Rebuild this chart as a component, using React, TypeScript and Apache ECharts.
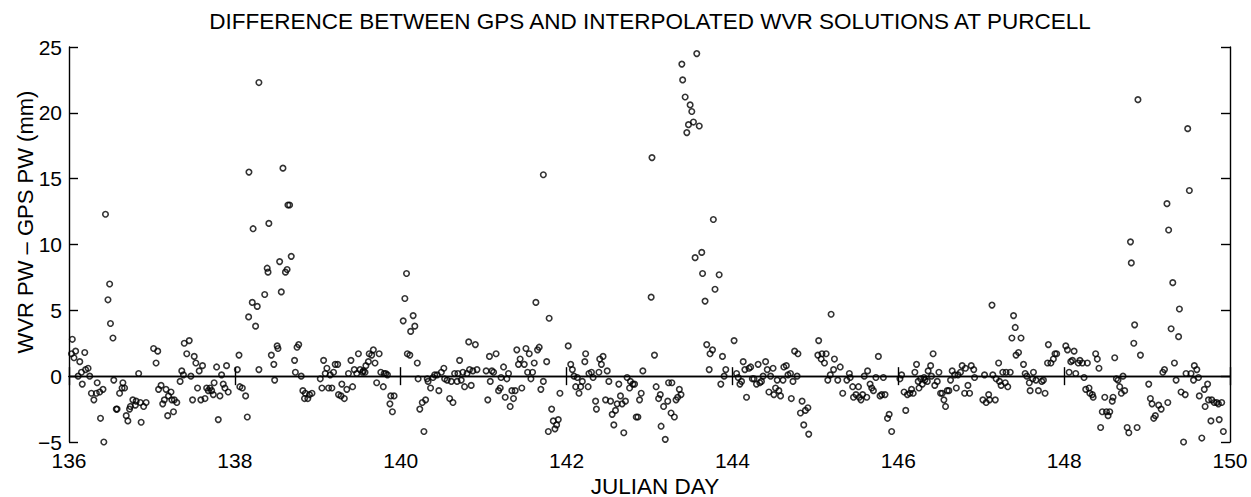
import React, { useEffect, useRef } from "react";
import * as echarts from "echarts";

// [julian day, WVR PW - GPS PW (mm)]
const seg136: [number, number][] = [
  [136.04, 2.8], [136.03, 1.7], [136.08, 1.9], [136.06, 1.4], [136.13, 1.1], [136.19, 1.8],
  [136.11, 0.0], [136.15, 0.3], [136.16, -0.6], [136.2, 0.5], [136.23, 0.6], [136.25, 0.0],
  [136.27, -1.3], [136.3, -1.8], [136.33, -1.3], [136.34, -0.5], [136.37, -1.2], [136.38, -3.2],
  [136.41, -1.0], [136.42, -5.0], [136.44, 12.3], [136.49, 7.0], [136.47, 5.8], [136.5, 4.0],
  [136.53, 2.9], [136.54, -0.3], [136.57, -2.5], [136.58, -2.5], [136.61, -1.3], [136.64, -0.9],
  [136.65, -0.5], [136.67, -0.9], [136.69, -3.0], [136.71, -3.4], [136.73, -2.5], [136.74, -2.3],
  [136.77, -1.8], [136.8, -2.2], [136.81, -1.9], [136.84, 0.2], [136.86, -2.0], [136.87, -3.5],
  [136.9, -2.3], [136.93, -2.0], [137.02, 2.1], [137.05, 1.0], [137.07, 1.9], [137.08, -1.0],
  [137.11, -0.7], [137.13, -2.1], [137.15, -1.8], [137.17, -1.0], [137.19, -3.0], [137.2, -1.5],
  [137.23, -1.2], [137.24, -1.8], [137.26, -2.7], [137.27, -1.8], [137.3, -2.0], [137.34, -0.4],
  [137.36, 0.4], [137.38, 0.1], [137.39, 2.5], [137.42, 1.7], [137.45, 2.7], [137.47, 0.0],
  [137.49, -1.8], [137.51, 1.5], [137.53, 1.0], [137.55, -0.9], [137.57, 0.4], [137.59, -1.8],
  [137.61, 0.8], [137.64, -1.7], [137.66, -0.9], [137.68, -1.1], [137.7, -0.9], [137.72, -1.1],
  [137.74, -1.4], [137.75, -0.5], [137.78, 0.7], [137.8, -3.3], [137.82, -1.5], [137.84, 0.1],
  [137.86, -0.6], [137.88, -0.9], [137.9, 0.8], [137.92, -1.2],
];

const seg138: [number, number][] = [
  [138.03, 0.5], [138.05, 1.6], [138.06, -0.8], [138.09, -0.9], [138.13, -1.5], [138.15, -3.1],
  [138.17, 15.5], [138.22, 11.2], [138.166, 4.5], [138.21, 5.6], [138.27, 5.3], [138.25, 3.8],
  [138.29, 0.5], [138.29, 22.3], [138.36, 6.2], [138.41, 11.6], [138.39, 8.2], [138.4, 7.9],
  [138.44, 1.6], [138.47, 0.9], [138.48, -0.3], [138.51, 2.3], [138.52, 2.1], [138.54, 8.7],
  [138.56, 6.4], [138.58, 15.8], [138.61, 7.9], [138.63, 8.1], [138.64, 13.0], [138.66, 13.0],
  [138.68, 9.1], [138.72, 1.2], [138.73, 0.3], [138.75, 2.2], [138.77, 2.4], [138.8, 0.0],
  [138.82, -1.1], [138.84, -1.7], [138.85, -1.3], [138.88, -1.7], [138.9, -1.4], [138.93, -1.3],
  [139.03, -0.2], [139.05, -0.9], [139.07, 1.2], [139.09, 0.2], [139.11, 0.6], [139.13, -0.9],
  [139.15, 0.1], [139.17, -0.9], [139.19, 0.3], [139.21, 0.9], [139.24, 0.9], [139.25, -1.4],
  [139.28, -1.5], [139.29, -0.6], [139.32, -1.7], [139.35, -1.0], [139.37, 0.2], [139.4, 1.2],
  [139.42, -0.8], [139.44, 0.5], [139.47, 0.2], [139.49, 1.7], [139.51, 0.5], [139.54, 0.3],
  [139.55, 0.4], [139.57, 0.3], [139.58, 0.8], [139.61, 1.1], [139.62, 1.7], [139.65, 1.6],
  [139.67, 2.0], [139.69, 1.0], [139.71, -0.5], [139.74, 1.7], [139.76, 0.3], [139.79, -0.8],
  [139.8, 0.2], [139.82, 0.2], [139.84, 0.1], [139.87, -2.1], [139.88, -1.5], [139.9, -2.7],
  [139.92, -1.5],
];

const seg140: [number, number][] = [
  [140.03, 4.2], [140.05, 5.9], [140.07, 7.8], [140.08, 1.7], [140.11, 1.6], [140.12, 3.4],
  [140.15, 4.6], [140.17, 3.8], [140.2, 1.0], [140.21, -0.2], [140.23, -2.5], [140.26, -2.0],
  [140.28, -4.2], [140.3, -1.8], [140.32, -0.2], [140.33, -0.4], [140.36, -0.9], [140.39, -0.1],
  [140.41, 0.1], [140.44, 0.1], [140.46, -1.1], [140.49, 0.3], [140.52, 0.6], [140.53, -0.2],
  [140.56, -0.3], [140.59, -1.7], [140.61, -0.4], [140.63, -2.0], [140.65, 0.2], [140.68, -0.4],
  [140.69, 0.2], [140.71, 1.2], [140.73, -0.3], [140.75, 0.3], [140.77, -0.8], [140.8, 0.2],
  [140.82, 2.6], [140.83, 0.5], [140.85, -0.7], [140.87, 0.4], [140.9, 2.4], [140.92, 0.5],
  [141.03, 0.4], [141.05, -1.8], [141.07, 1.5], [141.08, -0.4], [141.1, 0.4], [141.12, 0.3],
  [141.15, 1.7], [141.18, -1.1], [141.2, -0.9], [141.21, -0.1], [141.24, 0.7], [141.26, -1.6],
  [141.28, -0.2], [141.3, 0.2], [141.32, -2.3], [141.34, -1.1], [141.36, -1.7], [141.38, -1.1],
  [141.4, 2.0], [141.42, 0.9], [141.44, 1.3], [141.46, -0.9], [141.49, 0.9], [141.51, 2.1],
  [141.53, 0.3], [141.55, 1.7], [141.57, -0.2], [141.59, 0.3], [141.61, 1.0], [141.63, 5.6],
  [141.65, 2.0], [141.67, 2.2], [141.69, -1.0], [141.72, -0.4], [141.72, 15.3], [141.76, 1.1],
  [141.78, -4.2], [141.79, 4.4], [141.82, -2.5], [141.84, -3.4], [141.86, -4.0], [141.88, -3.7],
  [141.9, -3.3], [141.92, -1.3],
];

const seg142: [number, number][] = [
  [142.02, 2.3], [142.05, 0.9], [142.07, 0.5], [142.09, 0.0], [142.11, -0.8], [142.13, -0.1],
  [142.15, -1.3], [142.17, -0.8], [142.19, -0.4], [142.22, 1.1], [142.23, 1.7], [142.26, -0.8],
  [142.27, 0.2], [142.3, 0.3], [142.32, -0.1], [142.35, -1.9], [142.36, -2.5], [142.39, 0.3],
  [142.4, 1.3], [142.42, 0.9], [142.44, 1.5], [142.47, -1.8], [142.49, 0.4], [142.51, -0.4],
  [142.53, -1.9], [142.55, -2.9], [142.57, -3.7], [142.59, -2.6], [142.61, -2.1], [142.63, -0.6],
  [142.65, -1.5], [142.67, -2.1], [142.69, -4.3], [142.71, -1.9], [142.73, -0.1], [142.76, -0.9],
  [142.77, -0.4], [142.8, -0.6], [142.82, -0.6], [142.84, -3.1], [142.86, -3.1], [142.88, -1.8],
  [142.9, -1.3], [142.92, 0.4], [143.03, 16.6], [143.02, 6.0], [143.06, 1.6], [143.08, -0.8],
  [143.11, -1.7], [143.13, -1.4], [143.14, -3.8], [143.17, -2.3], [143.19, -4.8], [143.22, -1.9],
  [143.23, -0.5], [143.26, -2.8], [143.27, -0.5], [143.3, -3.1], [143.32, -1.8], [143.34, -1.6],
  [143.36, -1.0], [143.38, -1.4], [143.39, 23.7], [143.4, 22.5], [143.43, 21.2], [143.45, 18.5],
  [143.47, 19.1], [143.49, 20.6], [143.51, 20.1], [143.53, 19.3], [143.57, 24.5], [143.6, 19.0],
  [143.55, 9.0], [143.63, 9.4], [143.64, 7.8], [143.67, 5.7], [143.69, 2.4], [143.72, 0.5],
  [143.73, 1.7], [143.76, 2.0], [143.77, 11.9], [143.79, 6.6], [143.84, 7.7], [143.86, -0.6],
  [143.88, 1.5], [143.9, 0.0], [143.92, 0.5],
];

const seg144: [number, number][] = [
  [144.02, 2.7], [144.05, 0.2], [144.07, -0.1], [144.09, -0.6], [144.11, -0.4], [144.13, 1.1],
  [144.15, 0.5], [144.17, -1.6], [144.2, 0.6], [144.22, 0.7], [144.24, -0.2], [144.26, -0.2],
  [144.29, -0.6], [144.31, 0.9], [144.33, -0.5], [144.35, -0.4], [144.37, 0.0], [144.4, 1.1],
  [144.42, 0.5], [144.44, -1.2], [144.46, 0.0], [144.49, 0.6], [144.5, -1.4], [144.52, -0.9],
  [144.54, -0.3], [144.56, -1.1], [144.58, -1.5], [144.61, -0.3], [144.62, 0.7], [144.65, 0.8],
  [144.67, 0.1], [144.7, 0.2], [144.71, -1.7], [144.73, -0.4], [144.75, 1.9], [144.78, 0.0],
  [144.79, 1.7], [144.82, -2.8], [144.84, -1.9], [144.86, -3.7], [144.88, -2.6], [144.91, -2.4],
  [144.92, -4.4], [145.03, 1.6], [145.04, 2.7], [145.07, 1.3], [145.08, 1.7], [145.11, 1.0],
  [145.13, 1.7], [145.15, -0.3], [145.18, 0.1], [145.19, 4.7], [145.22, 0.5], [145.23, 1.3],
  [145.27, -0.3], [145.3, 0.7], [145.33, -1.3], [145.38, -0.3], [145.41, 0.2], [145.42, -0.1],
  [145.45, -0.8], [145.46, -1.6], [145.49, -1.4], [145.52, -0.8], [145.53, -1.6], [145.55, -1.8],
  [145.57, -1.4], [145.59, 0.0], [145.62, -1.6], [145.63, 0.4], [145.66, -0.6], [145.68, -0.9],
  [145.7, -1.1], [145.73, -0.1], [145.76, 1.5], [145.78, -1.5], [145.8, -1.4], [145.82, -0.1],
  [145.84, -1.4], [145.87, -3.2], [145.89, -2.9], [145.92, -4.2],
];

const seg146: [number, number][] = [
  [146.02, -0.2], [146.04, 0.1], [146.07, -1.2], [146.09, -2.6], [146.11, -1.4], [146.14, -1.3],
  [146.16, -1.0], [146.18, -1.3], [146.2, 0.3], [146.22, 0.9], [146.24, -0.4], [146.25, -0.9],
  [146.27, -0.2], [146.29, -0.6], [146.31, -0.1], [146.32, -0.3], [146.35, -0.4], [146.36, 0.4],
  [146.39, 0.8], [146.4, 0.0], [146.42, 1.7], [146.44, -0.7], [146.47, -0.4], [146.49, 0.3],
  [146.51, -1.3], [146.53, -1.3], [146.55, -1.8], [146.57, -2.3], [146.59, -1.1], [146.61, -1.1],
  [146.63, -0.3], [146.65, 0.4], [146.68, 0.1], [146.7, -0.9], [146.72, 0.1], [146.75, 0.3],
  [146.77, 0.8], [146.8, -1.3], [146.81, 0.6], [146.84, -0.7], [146.86, -1.3], [146.88, 0.8],
  [146.91, 0.5], [146.92, -0.1], [147.02, -1.8], [147.04, 0.1], [147.06, -2.0], [147.09, -1.4],
  [147.1, -1.8], [147.13, 5.4], [147.14, 0.1], [147.17, -1.8], [147.18, -0.2], [147.21, 1.0],
  [147.22, -0.4], [147.24, -0.7], [147.26, 0.3], [147.29, -0.5], [147.3, 0.3], [147.32, -0.8],
  [147.35, 0.3], [147.37, 2.9], [147.39, 4.6], [147.41, 3.7], [147.42, 1.6], [147.45, 1.8],
  [147.48, 2.9], [147.51, 0.9], [147.53, 0.2], [147.55, 0.0], [147.58, -0.5], [147.59, -1.1],
  [147.62, -0.2], [147.63, 0.3], [147.66, -0.3], [147.69, -1.1],
];

const seg148: [number, number][] = [
  [147.73, -0.4], [147.75, -0.3], [147.77, -1.3], [147.8, 1.0], [147.81, 2.4], [147.84, 1.0],
  [147.87, 1.3], [147.89, 1.7], [147.91, 1.7], [148.02, 2.3], [148.04, 2.0], [148.06, 0.3],
  [148.08, 1.1], [148.1, 1.2], [148.12, 1.9], [148.14, 0.2], [148.17, 1.0], [148.19, 1.2],
  [148.22, 1.0], [148.24, -0.1], [148.26, -1.0], [148.28, 1.0], [148.3, -0.9], [148.31, -1.3],
  [148.34, -1.4], [148.35, -1.6], [148.38, 1.7], [148.4, 1.3], [148.42, 0.6], [148.44, -3.9],
  [148.46, -2.7], [148.49, -1.6], [148.51, -2.7], [148.53, -3.0], [148.55, -2.7], [148.58, -1.9],
  [148.59, -1.6], [148.61, 1.4], [148.63, -0.2], [148.65, -0.3], [148.67, -0.8], [148.69, -1.3],
  [148.71, 0.0], [148.73, -1.1], [148.76, -3.9], [148.78, -4.3], [148.8, 10.2], [148.81, 8.6],
  [148.84, 2.5], [148.85, 3.9], [148.88, -3.9], [148.89, 21.0], [148.92, 1.6], [149.02, -0.6],
  [149.04, -1.7], [149.06, -2.1], [149.08, -3.2], [149.1, -3.0], [149.14, -2.2], [149.17, -2.5],
  [149.19, 0.3], [149.21, 0.5], [149.24, 13.1], [149.25, -2.0], [149.26, 11.1], [149.29, 3.6],
  [149.31, 7.1], [149.33, 1.0], [149.35, -0.3], [149.38, 3.0], [149.39, 5.1], [149.41, -1.2],
  [149.44, -5.0], [149.46, -1.4], [149.47, 0.2], [149.49, 18.8], [149.51, 14.1], [149.53, 0.2],
  [149.56, -0.3], [149.57, 0.8], [149.6, 0.5], [149.62, -0.1], [149.63, -1.5], [149.66, -4.7],
  [149.69, -1.0], [149.7, -2.3], [149.73, -0.6], [149.74, -1.8], [149.77, -3.4], [149.78, -1.8],
  [149.81, -2.0], [149.84, -2.0], [149.86, -2.1], [149.87, -3.3], [149.9, -2.0], [149.92, -4.2],
];

const xTicks = { min: 136, max: 150, step: 2 };
const yTicks = { min: -5, max: 25, step: 5 };

const TITLE = "DIFFERENCE BETWEEN GPS AND INTERPOLATED WVR SOLUTIONS AT PURCELL";
const X_NAME = "JULIAN DAY";
const Y_NAME = "WVR PW \u2013 GPS PW (mm)";

const FONT = "'Liberation Sans', Arial, Helvetica, sans-serif";

export default function App() {
  const ref = useRef<HTMLDivElement>(null);
  useEffect(() => {
    if (!ref.current) return;
    const chart = echarts.init(ref.current, undefined, { renderer: "svg" });
    const data = [...seg136, ...seg138, ...seg140, ...seg142, ...seg144, ...seg146, ...seg148];
    const axisLine = { show: true, lineStyle: { color: "#000", width: 1.4 } };
    const tick = { show: true, inside: true, length: 9, lineStyle: { color: "#000", width: 1.4 } };
    const label = { color: "#000", fontSize: 21, fontFamily: FONT };
    chart.setOption({
      animation: false,
      backgroundColor: "#fff",
      grid: { left: 69, right: 21, top: 47, bottom: 55, containLabel: false },
      xAxis: [
        {
          type: "value", min: xTicks.min, max: xTicks.max, interval: xTicks.step,
          axisLine, axisTick: tick, splitLine: { show: false },
          axisLabel: { ...label, margin: 8 },
        },
        {
          type: "value", position: "top", min: xTicks.min, max: xTicks.max, interval: xTicks.step,
          axisLine, axisTick: tick, splitLine: { show: false }, axisLabel: { show: false },
        },
      ],
      yAxis: [
        {
          type: "value", min: yTicks.min, max: yTicks.max, interval: yTicks.step,
          axisLine, axisTick: tick, splitLine: { show: false },
          axisLabel: { ...label, margin: 7, formatter: (v: number) => String(v).replace("-", "\u2212") },
        },
        {
          type: "value", position: "right", min: yTicks.min, max: yTicks.max, interval: yTicks.step,
          axisLine, axisTick: tick, splitLine: { show: false }, axisLabel: { show: false },
        },
      ],
      series: [
        {
          type: "scatter",
          data,
          symbol: "circle",
          symbolSize: 5.5,
          itemStyle: { color: "rgba(0,0,0,0)", borderColor: "#000", borderWidth: 1.6 },
          silent: true,
          markLine: {
            silent: true,
            symbol: "none",
            label: { show: false },
            lineStyle: { color: "#000", width: 1, type: "solid" },
            data: [{ yAxis: 0 }],
          },
        },
      ],
      graphic: [
        {
          type: "text", x: 650, y: 21,
          style: { text: TITLE, fill: "#000", font: `22.5px ${FONT}`, textAlign: "center", textVerticalAlign: "middle" },
        },
        {
          type: "text", x: 655, y: 486,
          style: { text: X_NAME, fill: "#000", font: `22.5px ${FONT}`, textAlign: "center", textVerticalAlign: "middle" },
        },
        {
          type: "text", x: 25, y: 222, rotation: Math.PI / 2,
          style: { text: Y_NAME, fill: "#000", font: `22px ${FONT}`, textAlign: "center", textVerticalAlign: "middle" },
        },
      ],
    });
    return () => chart.dispose();
  }, []);
  return (
    <div
      ref={ref}
      style={{ position: "fixed", left: 0, top: 0, width: 1251, height: 497, background: "#fff" }}
    />
  );
}
